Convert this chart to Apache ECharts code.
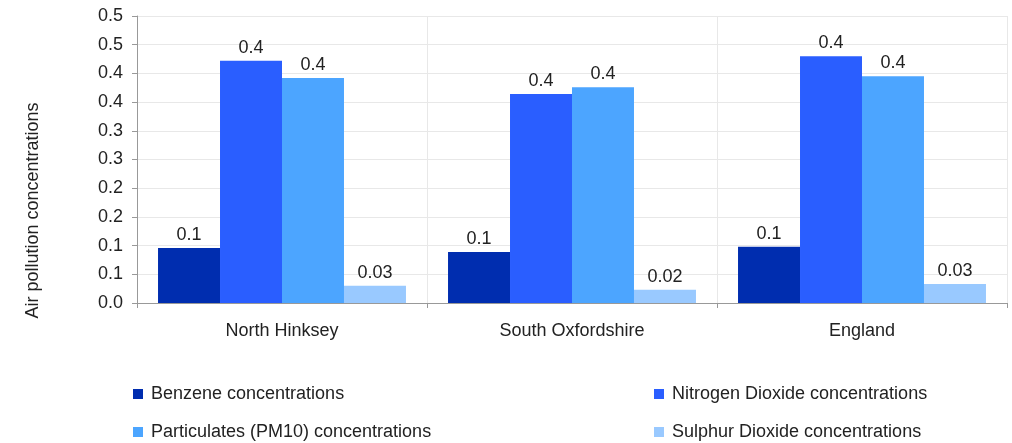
<!DOCTYPE html>
<html>
<head>
<meta charset="utf-8">
<script src="https://cdn.jsdelivr.net/npm/echarts@6/dist/echarts.min.js"></script>
<style>html,body{margin:0;padding:0;background:#fff}#c{width:1012px;height:443px}</style>
</head>
<body>
<div id="c"></div>
<script>
const categories = ['North Hinksey', 'South Oxfordshire', 'England'];
const seriesNames = ['Benzene concentrations', 'Nitrogen Dioxide concentrations', 'Particulates (PM10) concentrations', 'Sulphur Dioxide concentrations'];
const benzene = [0.096, 0.089, 0.098];
const nitrogenDioxide = [0.422, 0.364, 0.430];
const particulates = [0.392, 0.376, 0.395];
const sulphurDioxide = [0.030, 0.023, 0.033];
const yTickLabels = ['0.0', '0.1', '0.1', '0.2', '0.2', '0.3', '0.3', '0.4', '0.4', '0.5', '0.5'];
const colors = ['#002daf', '#2a5eff', '#4ca5ff', '#99c9ff'];
const values = [benzene, nitrogenDioxide, particulates, sulphurDioxide];

const FONT = 'Liberation Sans, Arial, sans-serif';
const chart = echarts.init(document.getElementById('c'));
const legendPos = [[133, 385], [654, 385], [133, 423], [654, 423]];
const fmtLabel = v => v >= 0.05 ? v.toFixed(1) : String(Number(v.toPrecision(1)));
chart.setOption({
  animation: false,
  textStyle: { fontFamily: FONT },
  grid: { left: 137, right: 5, top: 16, bottom: 140 },
  legend: seriesNames.map((n, i) => ({
    data: [n], left: legendPos[i][0], top: legendPos[i][1],
    icon: 'rect', itemWidth: 10, itemHeight: 10, itemGap: 0,
    textStyle: { fontSize: 18, color: '#222', fontFamily: FONT, padding: [0, 0, 0, 3] },
    padding: 0, selectedMode: false
  })),
  xAxis: {
    type: 'category', data: categories,
    axisLine: { lineStyle: { color: '#999' } },
    axisTick: { show: true, length: 5, lineStyle: { color: '#999' } },
    axisLabel: { fontSize: 18, color: '#222', margin: 19 },
    splitLine: { show: true, lineStyle: { color: '#e8e8e8' } }
  },
  yAxis: {
    type: 'value', min: 0, max: 0.5, interval: 0.05,
    name: 'Air pollution concentrations', nameLocation: 'middle', nameGap: 95,
    nameTextStyle: { fontSize: 18, color: '#222', padding: [0, 102, 0, 0] },
    axisLine: { show: true, lineStyle: { color: '#999' } },
    axisTick: { show: true, length: 5, lineStyle: { color: '#999' } },
    axisLabel: { fontSize: 18, color: '#222', margin: 14,
      formatter: v => yTickLabels[Math.round(v / 0.05)] },
    splitLine: { show: true, lineStyle: { color: '#e8e8e8' } }
  },
  series: seriesNames.map((n, i) => ({
    name: n, type: 'bar', data: values[i],
    barGap: '0%', barCategoryGap: '14.5%',
    itemStyle: { color: colors[i] },
    label: { show: true, position: 'top', distance: 4, fontSize: 18, color: '#222',
      formatter: p => fmtLabel(p.value) }
  }))
});
</script>
</body>
</html>
